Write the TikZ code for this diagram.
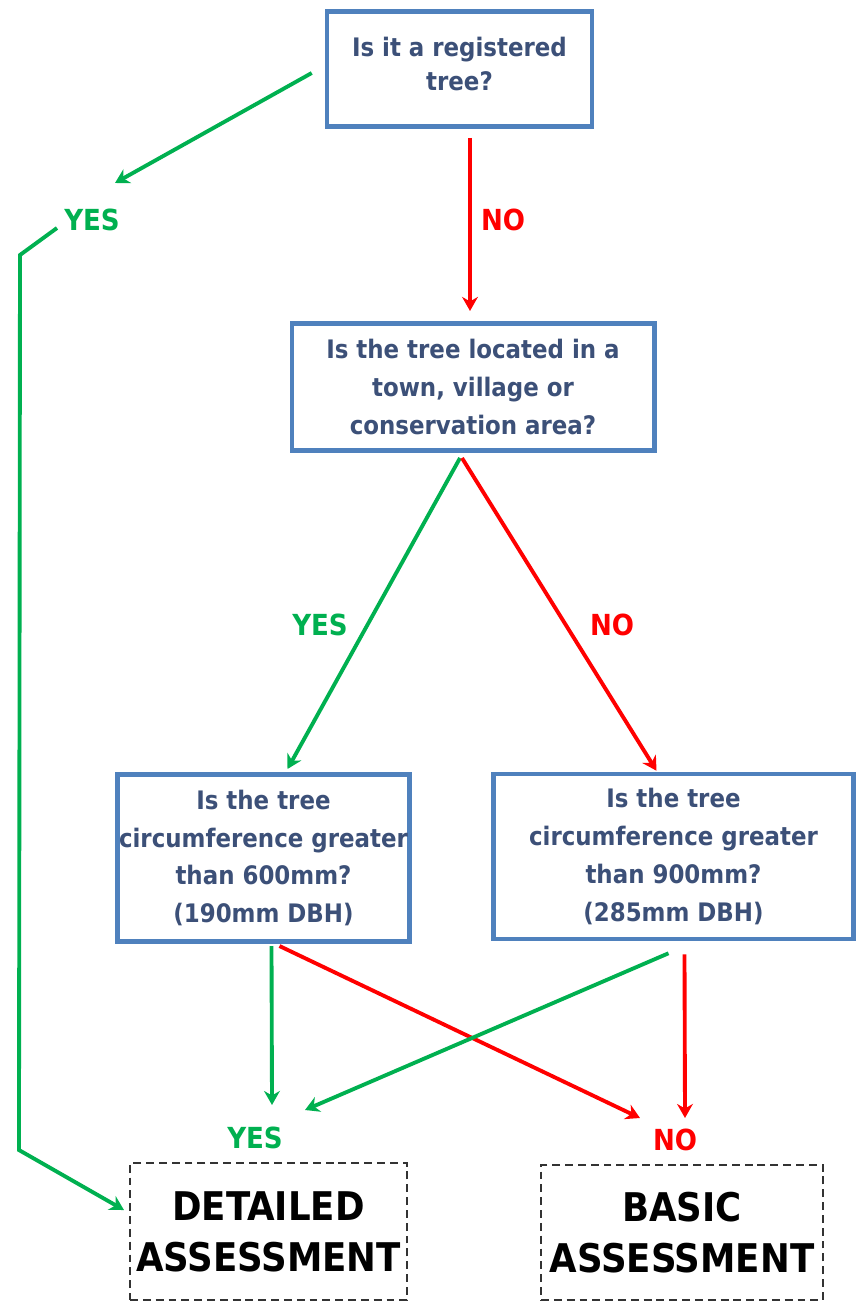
\documentclass[tikz,border=0pt]{standalone}
\usepackage{fontspec}
\setmainfont{DejaVu Sans Condensed}
\usepackage{tikz}
\usetikzlibrary{arrows.meta,calc}

\definecolor{azulcaja}{RGB}{79,129,189}
\definecolor{azultexto}{RGB}{60,80,120}
\definecolor{verde}{RGB}{0,176,80}
\definecolor{rojo}{RGB}{255,0,0}

\begin{document}
\begin{tikzpicture}[x=0.02cm,y=-0.02cm,
        pregunta/.style={draw=azulcaja,line width=2.6pt,fill=white,align=center,inner sep=0pt,
            text=azultexto,font=\fontsize{14.5}{21.6}\selectfont\bfseries},
        final/.style={draw=black!80,line width=1.2pt,dash pattern=on 4.5pt off 2.8pt,align=center,inner sep=0pt,
            font=\fontsize{22.5}{29}\selectfont\bfseries},
        si/.style={text=verde,font=\fontsize{16.5}{18}\selectfont\bfseries},
        nosi/.style={text=rojo,font=\fontsize{16.5}{18}\selectfont\bfseries},
        flechasi/.style={draw=verde,line width=2.2pt,-{Stealth[length=8pt,width=9pt]}},
        flechano/.style={draw=rojo,line width=2.2pt,-{Stealth[length=8pt,width=9pt]}}]
        \useasboundingbox (0,0) rectangle (863,1307);
        % Preguntas
            \node[pregunta,minimum width=5.3cm,minimum height=2.3cm] (q1) at (459.5,69)
                {Is it a registered\\[-2pt]tree?\\[-16pt]};
            \node[pregunta,minimum width=7.25cm,minimum height=2.55cm] (q2) at (473,387)
                {Is the tree located in a\\town, village or\\conservation area?};
            \node[pregunta,minimum width=5.85cm,minimum height=3.35cm] (q3) at (263.5,858)
                {Is the tree\\circumference greater\\than 600mm?\\(190mm DBH)};
            \node[pregunta,minimum width=7.2cm,minimum height=3.3cm] (q4) at (673.5,856.5)
                {Is the tree\\circumference greater\\than 900mm?\\(285mm DBH)};
            % Resultados
            \node[final,minimum width=5.54cm,minimum height=2.74cm] (d1) at (268.5,1231.5)
                {DETAILED\\ASSESSMENT};
            \node[final,minimum width=5.64cm,minimum height=2.7cm] (d2) at (682,1232.5)
                {BASIC\\ASSESSMENT};
            % Etiquetas
            \node[si] (yes1) at (92,220) {YES};
            \node[nosi] (no1) at (503,220) {NO};
            \node[si] (yes2) at (320,625) {YES};
            \node[nosi] (no2) at (612,625) {NO};
            \node[si] (yes3) at (255,1138) {YES};
            \node[nosi] (no3) at (675,1140) {NO};

            % Puntos de llegada
            \coordinate (yA) at ($(yes3)+(17,-33)$);
            \coordinate (yB) at ($(yes3)+(50,-28)$);
            \coordinate (nA) at ($(no3)+(-35,-22)$);
            \coordinate (nB) at ($(no3)+(10,-22)$);

            % Conectores
            \draw[flechasi] ($(q1.west)+(-13,4)$) -- ($(yes1)+(23,-37)$);
            \draw[flechasi] ($(yes1)+(-35,8)$) -- ++(-37,27) -- ($(d1.west)+(-110,-81.5)$) -- ($(d1.west)+(-5,-21.5)$);
            \draw[flechano] ($(q1.south -| q2.north)+(-3,9)$) -- ($(q2.north)+(-3,-10)$);
            \draw[flechasi] ($(q2.south)+(-13,5)$) -- ($(q3.north)+(24,-3)$);
            \draw[flechano] ($(q2.south)+(-11,5)$) -- ($(q4.north)+(-17,-1)$);
            \draw[flechasi] ($(q3.south)+(8,2)$) -- (yA);
            \draw[flechano] ($(q3.south)+(16,2)$) -- (nA);
            \draw[flechasi] ($(q4.south)+(-5,12)$) -- (yB);
            \draw[flechano] ($(q4.south)+(11,13)$) -- (nB);
        \end{tikzpicture}
\end{document}
